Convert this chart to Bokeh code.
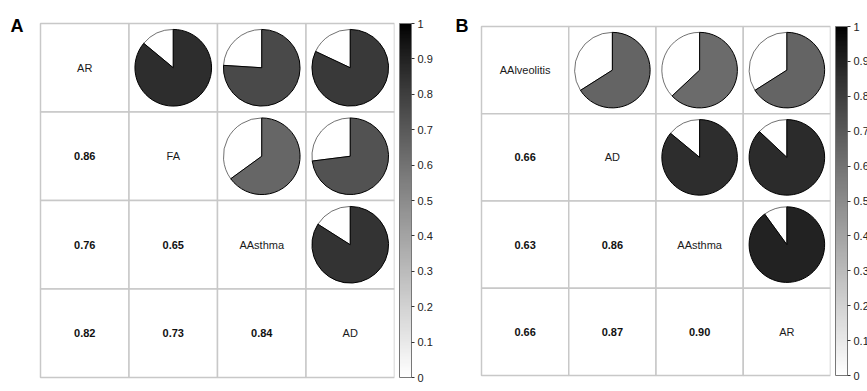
import math
from bokeh.plotting import figure
from bokeh.models import (LinearColorMapper, ColorBar, FixedTicker,
                          CustomJSTickFormatter, ColumnDataSource, Range1d, Label)
from bokeh.layouts import row
from bokeh.transform import transform
from bokeh.embed import file_html
from bokeh.resources import INLINE
from bokeh.core.properties import value

# ---------------- data ----------------
vars_a = ["AR", "FA", "AAsthma", "AD"]
pair_row_a = ["AR", "AR", "AR", "FA", "FA", "AAsthma"]
pair_col_a = ["FA", "AAsthma", "AD", "AAsthma", "AD", "AD"]
corr_a = [0.86, 0.76, 0.82, 0.65, 0.73, 0.84]

vars_b = ["AAlveolitis", "AD", "AAsthma", "AR"]
pair_row_b = ["AAlveolitis", "AAlveolitis", "AAlveolitis", "AD", "AD", "AAsthma"]
pair_col_b = ["AD", "AAsthma", "AR", "AAsthma", "AR", "AR"]
corr_b = [0.66, 0.63, 0.66, 0.86, 0.87, 0.90]

colorbar_ticks = [0, 0.1, 0.2, 0.3, 0.4, 0.5, 0.6, 0.7, 0.8, 0.9, 1]

FONT = "Liberation Sans"
H = 391

# grey palette: white (0) -> black (1)
palette = []
for k in range(256):
    t = k / 255.0
    g = int(round(255 * (1 - t) ** 0.87))
    palette.append("#%02x%02x%02x" % (g, g, g))


def make_panel(vars_, prow, pcol, corr, letter, gs, gl, gt, fig_w,
               letter_px, letter_py):
    """gs: grid size px, gl/gt: grid left/top inside figure (px)."""
    n = len(vars_)
    unit = gs / n
    frame_w = gl + gs
    right = fig_w - frame_w
    gb = H - gt - gs
    x_range = Range1d(-gl / unit, n)
    y_range = Range1d(-gb / unit, n + gt / unit)
    mapper = LinearColorMapper(palette=palette, low=0, high=1)
    p = figure(x_range=x_range, y_range=y_range,
               frame_width=frame_w, frame_height=H,
               min_border_left=0, min_border_top=0,
               min_border_bottom=0, min_border_right=right,
               output_backend="svg", toolbar_location=None)
    p.axis.visible = False
    p.grid.visible = False
    p.outline_line_color = None
    p.background_fill_color = "white"
    p.border_fill_color = "white"

    pos = {v: k for k, v in enumerate(vars_)}
    xc = lambda v: pos[v] + 0.5
    yc = lambda v: n - pos[v] - 0.5

    cx = [xc(c) for r in vars_ for c in vars_]
    cy = [yc(r) for r in vars_ for c in vars_]
    p.rect(x=cx, y=cy, width=1, height=1, fill_color="white",
           line_color="#c8c8c8", line_width=1.5)

    # diagonal labels
    p.text(x=[xc(v) for v in vars_], y=[yc(v) for v in vars_], text=vars_,
           text_align="center", text_baseline="middle",
           text_font_size="11px", text_font=value(FONT),
           text_color="#1a1a1a")

    # lower triangle values
    p.text(x=[xc(v) for v in prow], y=[yc(v) for v in pcol],
           text=["%.2f" % v for v in corr],
           text_align="center", text_baseline="middle",
           text_font_size="11px", text_font=value(FONT),
           text_font_style="bold", text_color="#111111")

    # upper triangle pies
    src = ColumnDataSource(dict(
        x=[xc(v) for v in pcol], y=[yc(v) for v in prow], r=corr,
        a0=[math.pi / 2 - 2 * math.pi * v for v in corr],
        a1=[math.pi / 2 for v in corr]))
    p.wedge(x="x", y="y", radius=0.433, start_angle="a1", end_angle="a0",
            fill_color="white", line_color="#333333", line_width=0.7,
            source=src)
    p.wedge(x="x", y="y", radius=0.433, start_angle="a0", end_angle="a1",
            fill_color=transform("r", mapper), line_color="black",
            line_width=1, source=src)

    cb = ColorBar(color_mapper=mapper,
                  ticker=FixedTicker(ticks=colorbar_ticks),
                  formatter=CustomJSTickFormatter(
                      code="return String(Math.round(tick*10)/10)"),
                  width=12, height=gs, padding=0, margin=0,
                  location=(frame_w + 5, gb),
                  major_tick_in=0, major_tick_out=3,
                  major_tick_line_color="#333333",
                  label_standoff=3,
                  major_label_text_font_size="11px",
                  major_label_text_font=FONT,
                  major_label_text_color="#222222",
                  bar_line_color="#777777",
                  border_line_color=None,
                  background_fill_alpha=0)
    p.add_layout(cb)

    p.add_layout(Label(x=(letter_px - gl) / unit,
                       y=n + (gt - letter_py) / unit,
                       text=letter, text_font=FONT, text_font_size="18px",
                       text_font_style="bold", text_color="black",
                       text_baseline="alphabetic", text_align="left"))
    return p


pA = make_panel(vars_a, pair_row_a, pair_col_a, corr_a, "A",
                gs=354, gl=40, gt=23, fig_w=455, letter_px=10, letter_py=25)
pB = make_panel(vars_b, pair_row_b, pair_col_b, corr_b, "B",
                gs=349, gl=26, gt=26, fig_w=412, letter_px=0, letter_py=25)

layout = row(pA, pB)
open("out.html", "w").write(file_html(layout, INLINE))
